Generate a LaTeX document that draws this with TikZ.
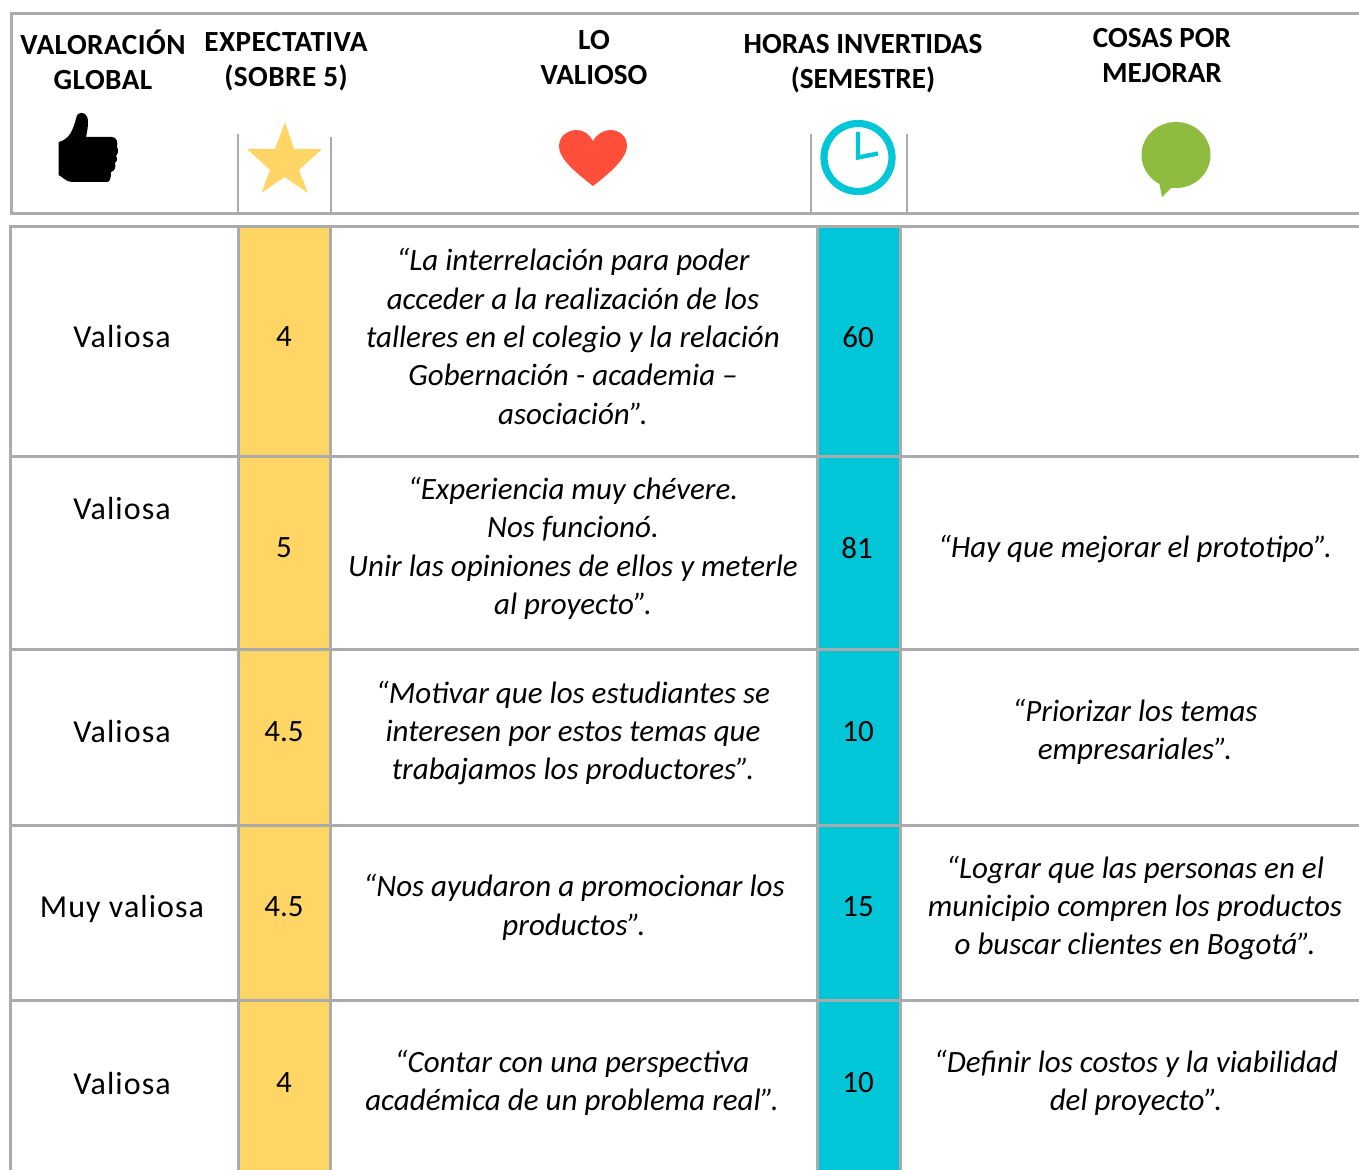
\documentclass[tikz,border=0pt]{standalone}
\usepackage{fontspec}
\setmainfont{Carlito}
\definecolor{gridgray}{HTML}{ABABAB}
\definecolor{staryellow}{HTML}{FFD666}
\definecolor{clockcyan}{HTML}{00C6D8}
\definecolor{heartred}{HTML}{FF4F3B}
\definecolor{bubblegreen}{HTML}{8FBC3F}
\tikzset{
  grid/.style={draw=gridgray,line width=1.5pt},
  gridthin/.style={draw=gridgray,line width=1pt},
  head/.style={align=center,inner sep=0pt,font=\fontsize{14.6}{17.5}\selectfont\bfseries},
  headwide/.style={align=center,inner sep=0pt,font=\fontsize{14.6}{17.5}\selectfont\bfseries\addfontfeature{LetterSpace=1.6}},
  cell/.style={align=center,inner sep=0pt,font=\fontsize{16}{16}\selectfont\addfontfeature{LetterSpace=3.3}},
  numcell/.style={align=center,inner sep=0pt,font=\fontsize{15.5}{15.5}\selectfont},
  quote/.style={align=center,inner sep=0pt,font=\fontsize{15.5}{19.2}\selectfont\itshape},
}
\begin{document}
\begin{tikzpicture}[x=0.5pt,y=-0.5pt]
\useasboundingbox (0,0) rectangle (1359,1170);
% column fills
\fill[staryellow] (239,227) rectangle (330,1170);
\fill[clockcyan] (817,227) rectangle (901,1170);
% header frame
\draw[grid] (1359,14) -- (11,14) -- (11,214) -- (1359,214);
\draw[gridthin] (238,134) -- (238,214);
\draw[gridthin] (331,137) -- (331,215);
\draw[gridthin] (811,134) -- (811,214);
\draw[gridthin] (907,134) -- (907,214);
% body grid
\draw[grid] (1359,227) -- (10,227) -- (10,1170);
\foreach \yy in {457,649,825,1000} \draw[grid] (10,\yy) -- (1359,\yy);
\foreach \xx in {238.5,330,817,900.5} \draw[grid] (\xx,227) -- (\xx,1170);
% icons
\fill[black] (58.5,175) -- (58.5,142) .. controls (66,140) and (70,136) .. (73,128)
  .. controls (76,121) and (76,116) .. (78,114) .. controls (83,111) and (88,114) .. (88,122)
  .. controls (88,128) and (87,132) .. (86,137) -- (112,137)
  .. controls (117,137) and (118,143) .. (117,147) .. controls (119,150) and (118,154) .. (116,156)
  .. controls (118,159) and (117,162) .. (115,163) .. controls (116,167) and (115,171) .. (111,172)
  .. controls (111,178) and (110,182) .. (107,182) -- (72,182) .. controls (66,182) and (63,177) .. (58.5,175) -- cycle;
\fill[staryellow] (285,122) -- (294,149) -- (322,149) -- (299,170) -- (308,193) -- (284.5,177) -- (261.5,193) -- (270,170) -- (247,149) -- (275,149) -- cycle;
\fill[heartred] (593,186) .. controls (575,172) and (558,158) .. (559,145)
  .. controls (560,134) and (570,130) .. (577,130) .. controls (584,130) and (590,135) .. (593,141)
  .. controls (596,135) and (603,130) .. (610,130) .. controls (618,130) and (627,135) .. (627,146)
  .. controls (627,158) and (610,173) .. (593,186) -- cycle;
\draw[clockcyan,line width=3.6pt] (858,157.5) circle [radius=34];
\draw[clockcyan,line width=2.2pt] (858,132) -- (858,157.5) -- (878,153.5);
\fill[bubblegreen] (1176,155) ellipse [x radius=34.5,y radius=33];
\fill[bubblegreen] (1159,182) -- (1162,197) -- (1172,187) -- cycle;
% header texts
\node[headwide] (h1) at (103,59.5) {VALORACIÓN\\GLOBAL};
\node[headwide] (h2) at (286,61.5) {EXPECTATIVA\\(SOBRE 5)};
\node[head] (h3) at (594,58) {LO\\VALIOSO};
\node[head] (h4) at (863,63.5) {HORAS INVERTIDAS\\(SEMESTRE)};
\node[head] (h5) at (1162,56) {COSAS POR\\MEJORAR};
% column 1
\node[cell] (a1) at (122,337) {Valiosa};
\node[cell] (a2) at (122,509) {Valiosa};
\node[cell] (a3) at (122,732) {Valiosa};
\node[cell] (a4) at (122,909) {Muy valiosa};
\node[cell] (a5) at (122,1083) {Valiosa};
% column 2
\node[numcell] (b1) at (284,337) {4};
\node[numcell] (b2) at (284,548) {5};
\node[numcell] (b3) at (284,732) {4.5};
\node[numcell] (b4) at (284,907) {4.5};
\node[numcell] (b5) at (284,1083) {4};
% column 3
\node[quote] (c1) at (573,336.5) {“La interrelación para poder\\acceder a la realización de los\\talleres en el colegio y la relación\\Gobernación - academia –\\asociación”.};
\node[quote] (c2) at (573,548.5) {“Experiencia muy chévere.\\Nos funcionó.\\Unir las opiniones de ellos y meterle\\al proyecto”.};
\node[quote] (c3) at (573,733) {“Motivar que los estudiantes se\\interesen por estos temas que\\trabajamos los productores”.};
\node[quote] (c4) at (574,907.5) {“Nos ayudaron a promocionar los\\productos”.};
\node[quote] (c5) at (572,1083) {“Contar con una perspectiva\\académica de un problema real”.};
% column 4
\node[numcell] (d1) at (858,337) {60};
\node[numcell] (d2) at (857,548) {81};
\node[numcell] (d3) at (858,732) {10};
\node[numcell] (d4) at (858,907) {15};
\node[numcell] (d5) at (858,1083) {10};
% column 5
\node[quote] (e2) at (1135,549) {“Hay que mejorar el prototipo”.};
\node[quote] (e3) at (1135,732) {“Priorizar los temas\\empresariales”.};
\node[quote] (e4) at (1135,908) {“Lograr que las personas en el\\municipio compren los productos\\o buscar clientes en Bogotá”.};
\node[quote] (e5) at (1136,1083) {“Definir los costos y la viabilidad\\del proyecto”.};
\end{tikzpicture}
\end{document}
